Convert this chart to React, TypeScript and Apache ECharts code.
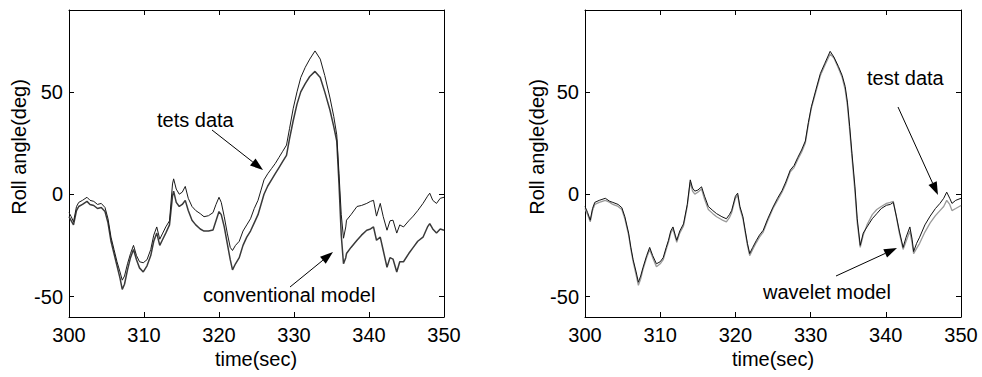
import React, { useEffect, useRef } from "react";
import * as echarts from "echarts";

// ---- data (time in sec, roll angle in deg) ----
const timeTicks = [300, 310, 320, 330, 340, 350];
const angleTicks = [-50, 0, 50];

const leftTestData: [number, number][] = [
  [300, -9], [300.3, -11], [300.6, -13.5], [301.0, -6], [301.3, -4], [301.8, -3], [302.4, -1.5], [302.8, -3],
  [303.3, -3.5], [303.8, -5], [304.3, -4.5], [304.8, -6.5], [305.2, -12], [305.6, -21], [306.0, -27], [306.4, -33],
  [306.8, -38], [307.1, -42], [307.4, -40], [307.8, -34], [308.2, -29], [308.6, -25], [309.0, -30], [309.4, -33],
  [309.9, -33.5], [310.4, -32], [310.9, -27], [311.3, -20], [311.7, -16], [312.1, -22], [312.5, -19], [312.9, -16],
  [313.4, -13], [313.8, 5], [313.95, 7.5], [314.3, 2.5], [314.7, 0], [315.1, 1], [315.5, 3.8], [315.9, -2],
  [316.4, -6], [316.9, -8], [317.5, -9.5], [318.0, -11], [318.6, -10.5], [319.2, -9], [319.6, -5], [320.0, -1.5],
  [320.3, -4], [320.7, -11], [321.1, -19], [321.5, -26], [321.8, -27.5], [322.2, -25], [322.7, -23], [323.2, -18],
  [323.7, -15], [324.2, -12], [324.7, -7], [325.2, -3], [325.6, 2], [326.0, 7], [326.5, 10], [327.0, 12.5],
  [327.5, 15], [328.0, 18], [328.5, 21], [329.0, 24], [329.4, 32], [329.9, 42], [330.4, 50], [330.9, 57],
  [331.5, 62], [332.1, 66], [332.8, 70], [333.5, 66], [334.1, 58], [334.8, 47], [335.3, 38], [335.7, 29],
  [336.0, 10], [336.3, -10], [336.6, -21.5], [336.9, -16], [337.0, -12.7], [337.6, -10], [338.4, -6], [339.0, -5.5],
  [339.7, -4.5], [340.2, -3.5], [340.6, -3], [341.0, -10.7], [341.5, -4.5], [341.9, -11], [342.4, -17.6], [342.8, -13],
  [343.2, -12.7], [343.7, -19], [344.1, -15], [344.6, -16], [345.3, -13], [345.9, -10.7], [346.5, -8], [347.2, -4.5],
  [347.8, -1], [348.1, 0.5], [348.5, -3], [349.0, -4.5], [349.5, -2], [350, -1.5],
];

const conventionalModel: [number, number][] = [
  [300, -11], [300.3, -13], [300.6, -15], [301.0, -8], [301.3, -6], [301.8, -5], [302.4, -3.5], [302.8, -5],
  [303.3, -5.5], [303.8, -7], [304.3, -6.5], [304.8, -8.5], [305.2, -14], [305.6, -23], [306.0, -29], [306.4, -35],
  [306.8, -41], [307.1, -46.5], [307.4, -44], [307.8, -37], [308.2, -31], [308.6, -27], [309.0, -32], [309.4, -36],
  [309.9, -38], [310.4, -35], [310.9, -30], [311.3, -23], [311.7, -19], [312.1, -25], [312.5, -22], [312.9, -19],
  [313.4, -15], [313.8, -1], [313.95, 1.5], [314.3, -4], [314.7, -6], [315.1, -5], [315.5, -3], [315.9, -8],
  [316.4, -12.7], [316.9, -15], [317.5, -17], [318.0, -18], [318.6, -18], [319.2, -17.5], [319.6, -13], [320.0, -8.5],
  [320.3, -10], [320.7, -16], [321.1, -24], [321.5, -32], [321.8, -37], [322.2, -34], [322.7, -31], [323.2, -25],
  [323.7, -21], [324.2, -18], [324.7, -14], [325.2, -10], [325.6, -5], [326.0, 0], [326.5, 4], [327.0, 7],
  [327.5, 10], [328.0, 13], [328.5, 16], [329.0, 19], [329.4, 27], [329.9, 36], [330.4, 44], [330.9, 50],
  [331.5, 54], [332.1, 57.5], [332.8, 60], [333.5, 57], [334.1, 50], [334.8, 41], [335.3, 33], [335.7, 26],
  [336.0, 5], [336.3, -20], [336.6, -34], [336.9, -31], [337.0, -29], [337.6, -26], [338.4, -22.5], [339.0, -20],
  [339.7, -17.6], [340.2, -17], [340.6, -16], [341.0, -22.5], [341.5, -21], [341.9, -27.5], [342.4, -35.7], [342.8, -31],
  [343.2, -31.7], [343.7, -38], [344.1, -33], [344.6, -33], [345.3, -29], [345.9, -26], [346.5, -23], [347.2, -21],
  [347.8, -16], [348.1, -14.4], [348.5, -17], [349.0, -19], [349.5, -17], [350, -17.6],
];

const rightTestData: [number, number][] = [
  [300, -6], [300.35, -9], [300.7, -12.7], [301.0, -7], [301.3, -4], [301.9, -3], [302.7, -2], [303.3, -3.5],
  [303.7, -4], [304.4, -5], [304.9, -6.6], [305.3, -11], [305.8, -19], [306.1, -26], [306.4, -32], [306.8, -38],
  [307.1, -43], [307.4, -40], [307.7, -36], [308.2, -30], [308.6, -26], [309.0, -30], [309.5, -34], [310.0, -33],
  [310.4, -31], [310.8, -26], [311.1, -22.5], [311.4, -18], [311.7, -16], [312.0, -20], [312.2, -22.5], [312.6, -18],
  [313.1, -14.5], [313.6, -5], [314.0, 7], [314.3, 3], [314.6, 1.5], [315.0, 2], [315.5, 3.6], [315.9, -1],
  [316.4, -6], [317.0, -8], [317.5, -9.5], [318.2, -11], [318.8, -12], [319.2, -10], [319.5, -8], [320.0, -1],
  [320.3, 0.5], [320.6, -6], [321.0, -11], [321.3, -17.6], [321.6, -24], [321.9, -29], [322.3, -26], [322.8, -22.5],
  [323.2, -20], [323.7, -17.6], [324.3, -12], [325.0, -6.3], [325.6, -2], [326.2, 1.8], [326.7, 6], [327.3, 11.8],
  [327.8, 14], [328.3, 18], [328.8, 21.6], [329.3, 26], [329.7, 35], [330.1, 42.7], [330.7, 51], [331.3, 59],
  [331.9, 64], [332.6, 69.8], [333.1, 67], [333.7, 62.4], [334.2, 58], [334.6, 52.6], [334.9, 45], [335.2, 33],
  [335.5, 20], [335.9, 3.6], [336.2, -12], [336.6, -25], [337.0, -19], [337.5, -16], [338.2, -12], [338.8, -9.5],
  [339.4, -7], [340.1, -5.4], [340.6, -5], [341.0, -4], [341.4, -10.7], [341.8, -18], [342.3, -26], [342.7, -21],
  [343.2, -16], [343.5, -22], [343.7, -28], [344.1, -24], [344.5, -21], [345.2, -15], [345.9, -10.7], [346.6, -7],
  [347.2, -4.5], [347.7, -2], [348.1, 1], [348.5, -2], [348.8, -4.5], [349.3, -3], [350, -2],
];

const waveletModel: [number, number][] = [
  [300, -7], [300.35, -10], [300.7, -13.5], [301.0, -8], [301.3, -5], [301.9, -4], [302.7, -3], [303.3, -4],
  [303.7, -5], [304.4, -6], [304.9, -7.5], [305.3, -12], [305.8, -20], [306.1, -27], [306.4, -33], [306.8, -39.5],
  [307.1, -44.5], [307.4, -41.5], [307.7, -37], [308.2, -31], [308.6, -27], [309.0, -31], [309.5, -35.5], [310.0, -34],
  [310.4, -32], [310.8, -27], [311.1, -23.5], [311.4, -19], [311.7, -17], [312.0, -21], [312.2, -23.5], [312.6, -19],
  [313.1, -15.5], [313.6, -6], [314.0, 6], [314.3, 1.5], [314.6, 0], [315.0, 1], [315.5, 2.5], [315.9, -2.5],
  [316.4, -7.5], [317.0, -9.5], [317.5, -11], [318.2, -12.5], [318.8, -13.5], [319.2, -11.5], [319.5, -9], [320.0, -2],
  [320.3, -0.5], [320.6, -7], [321.0, -12], [321.3, -18.5], [321.6, -25], [321.9, -30], [322.3, -27], [322.8, -23.5],
  [323.2, -21], [323.7, -18.5], [324.3, -13], [325.0, -7], [325.6, -3], [326.2, 1], [326.7, 5], [327.3, 11],
  [327.8, 13], [328.3, 17], [328.8, 20.5], [329.3, 25], [329.7, 34], [330.1, 42], [330.7, 50], [331.3, 58],
  [331.9, 63], [332.6, 68.5], [333.1, 66.5], [333.7, 61.5], [334.2, 57], [334.6, 51], [334.9, 43], [335.2, 31],
  [335.5, 18], [335.9, 1], [336.2, -14], [336.6, -26], [337.0, -20], [337.5, -15], [338.2, -10], [338.8, -7.5],
  [339.4, -6], [340.1, -4.5], [340.6, -4], [341.0, -3.5], [341.4, -11], [341.8, -19], [342.3, -27], [342.7, -23],
  [343.2, -18], [343.5, -24], [343.7, -29], [344.1, -26.5], [344.5, -24], [345.2, -18.5], [345.9, -14], [346.6, -10.5],
  [347.2, -8], [347.7, -6], [348.1, -3], [348.5, -5], [348.8, -8], [349.3, -7], [350, -5.5],
];

const FONT = '"Liberation Sans", Arial, Helvetica, sans-serif';

function arrow(x1: number, y1: number, x2: number, y2: number, len = 13, hw = 4.5) {
  const dx = x2 - x1, dy = y2 - y1;
  const d = Math.hypot(dx, dy);
  const ux = dx / d, uy = dy / d;
  const bx = x2 - ux * len, by = y2 - uy * len;
  return [
    { type: "line", shape: { x1, y1, x2: bx, y2: by }, style: { stroke: "#000", lineWidth: 1 }, silent: true },
    {
      type: "polygon",
      shape: { points: [[x2, y2], [bx - uy * hw, by + ux * hw], [bx + uy * hw, by - ux * hw]] },
      style: { fill: "#000" },
      silent: true,
    },
  ];
}

function label(text: string, x: number, y: number, align = "left", rotation = 0) {
  return {
    type: "text",
    x,
    y,
    rotation,
    silent: true,
    style: {
      text,
      fill: "#000",
      fontSize: 20,
      fontFamily: FONT,
      textAlign: align,
      textVerticalAlign: "middle",
    },
  };
}

function axesFor(gridIndex: number) {
  const line = { show: true, onZero: false, lineStyle: { color: "#000", width: 1 } };
  const tick = { show: true, inside: true, length: 5, lineStyle: { color: "#000", width: 1 } };
  const xBase = { type: "value", gridIndex, min: 300, max: 350, interval: 10, splitLine: { show: false }, axisLine: line };
  const yBase = { type: "value", gridIndex, min: -60, max: 90, splitLine: { show: false }, axisLine: line };
  return {
    x: [
      {
        ...xBase,
        position: "bottom",
        axisTick: tick,
        axisLabel: { show: true, color: "#000", fontSize: 20, fontFamily: FONT, margin: 8, customValues: timeTicks },
      },
      { ...xBase, position: "top", axisTick: tick, axisLabel: { show: false } },
    ],
    y: [
      {
        ...yBase,
        position: "left",
        axisTick: { ...tick, customValues: angleTicks },
        axisLabel: { show: true, color: "#000", fontSize: 20, fontFamily: FONT, margin: 6, customValues: angleTicks },
      },
      {
        ...yBase,
        position: "right",
        axisTick: { ...tick, customValues: angleTicks },
        axisLabel: { show: false, customValues: angleTicks },
      },
    ],
  };
}

export default function App() {
  const ref = useRef<HTMLDivElement>(null);
  useEffect(() => {
    if (!ref.current) return;
    const chart = echarts.init(ref.current, undefined, { renderer: "svg" });
    const a = axesFor(0);
    const b = axesFor(1);
    const lineSeries = (name: string, data: [number, number][], idx: number, color: string, width: number) => ({
      name,
      type: "line",
      data,
      xAxisIndex: idx,
      yAxisIndex: idx,
      showSymbol: false,
      symbol: "none",
      lineStyle: { color, width },
      silent: true,
    });
    chart.setOption({
      animation: false,
      backgroundColor: "#fff",
      textStyle: { fontFamily: FONT },
      grid: [
        { left: 69, top: 10, width: 375, height: 307 },
        { left: 585, top: 10, width: 376, height: 307 },
      ],
      xAxis: [...a.x, ...b.x],
      yAxis: [...a.y, ...b.y],
      series: [
        lineSeries("conventional model", conventionalModel, 0, "#3a3a3a", 1.5),
        lineSeries("tets data", leftTestData, 0, "#1a1a1a", 1),
        lineSeries("wavelet model", waveletModel, 2, "#9a9a9a", 1.3),
        lineSeries("test data", rightTestData, 2, "#111111", 1),
      ],
      graphic: [
        label("Roll angle(deg)", 19, 147, "center", Math.PI / 2),
        label("Roll angle(deg)", 537, 147, "center", Math.PI / 2),
        label("time(sec)", 256, 359, "center"),
        label("time(sec)", 773, 359, "center"),
        label("tets data", 157, 120),
        ...arrow(212, 130, 263, 170),
        label("conventional model", 203, 295),
        ...arrow(290, 287, 333, 252),
        label("test data", 867, 78),
        ...arrow(898, 107, 938, 195),
        label("wavelet model", 763, 292),
        ...arrow(836, 276, 897, 248),
      ],
    });
    return () => chart.dispose();
  }, []);
  return (
    <div
      ref={ref}
      style={{ position: "absolute", left: 0, top: 0, width: 982, height: 377, background: "#fff" }}
    />
  );
}
